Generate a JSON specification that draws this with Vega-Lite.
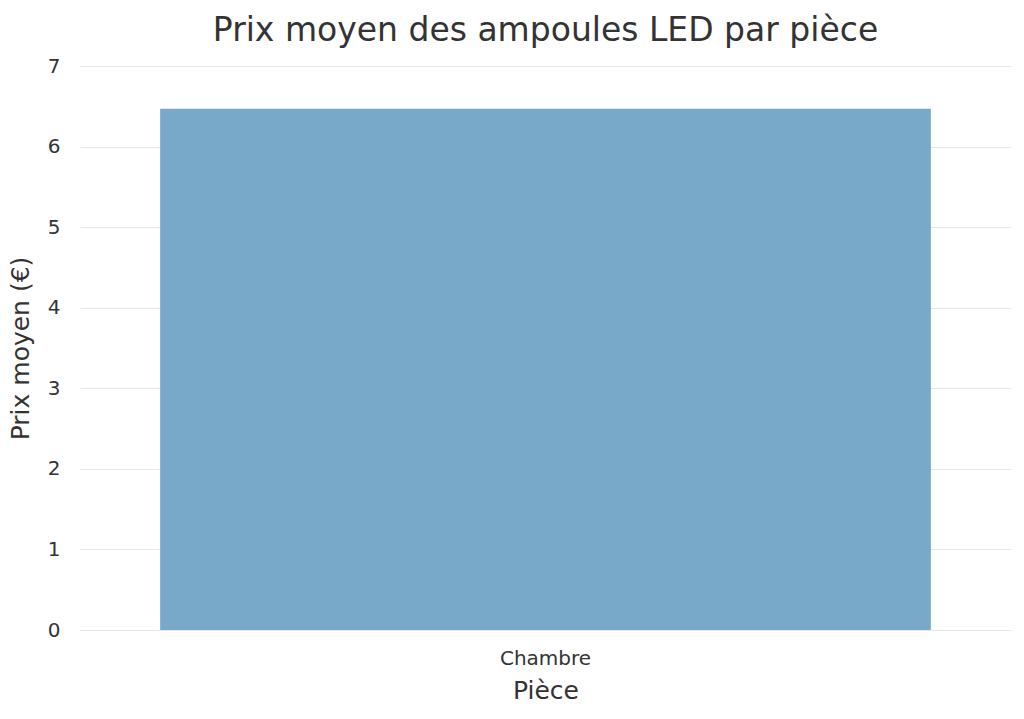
{
  "$schema": "https://vega.github.io/schema/vega-lite/v6.json",
  "autosize": "none",
  "width": 931,
  "height": 564,
  "padding": {"left": 80, "top": 66, "right": 13, "bottom": 89},
  "background": "white",
  "title": {
    "text": "Prix moyen des ampoules LED par pièce",
    "font": "DejaVu Sans",
    "fontSize": 33,
    "fontWeight": "normal",
    "color": "#333333",
    "anchor": "middle",
    "offset": 8
  },
  "config": {
    "view": {"stroke": null},
    "axis": {
      "labelFont": "DejaVu Sans",
      "titleFont": "DejaVu Sans",
      "labelColor": "#333333",
      "titleColor": "#333333",
      "titleFontWeight": "normal",
      "domain": false,
      "ticks": false
    }
  },
  "data": {"values": [{"piece": "Chambre", "prix": 6.47}]},
  "mark": {"type": "bar", "color": "#79a9c8"},
  "encoding": {
    "x": {
      "field": "piece",
      "type": "nominal",
      "title": "Pièce",
      "scale": {"paddingInner": 0, "paddingOuter": 0.104},
      "axis": {"labelAngle": 0, "labelFontSize": 20, "titleFontSize": 25, "labelPadding": 18, "titlePadding": 10, "grid": false}
    },
    "y": {
      "field": "prix",
      "type": "quantitative",
      "title": "Prix moyen (€)",
      "scale": {"domain": [0, 7], "nice": false},
      "axis": {"values": [0,1,2,3,4,5,6,7], "labelFontSize": 20, "titleFontSize": 25, "labelPadding": 20, "titlePadding": 14, "grid": true, "gridColor": "#e6e6e6", "gridWidth": 1}
    }
  }
}
